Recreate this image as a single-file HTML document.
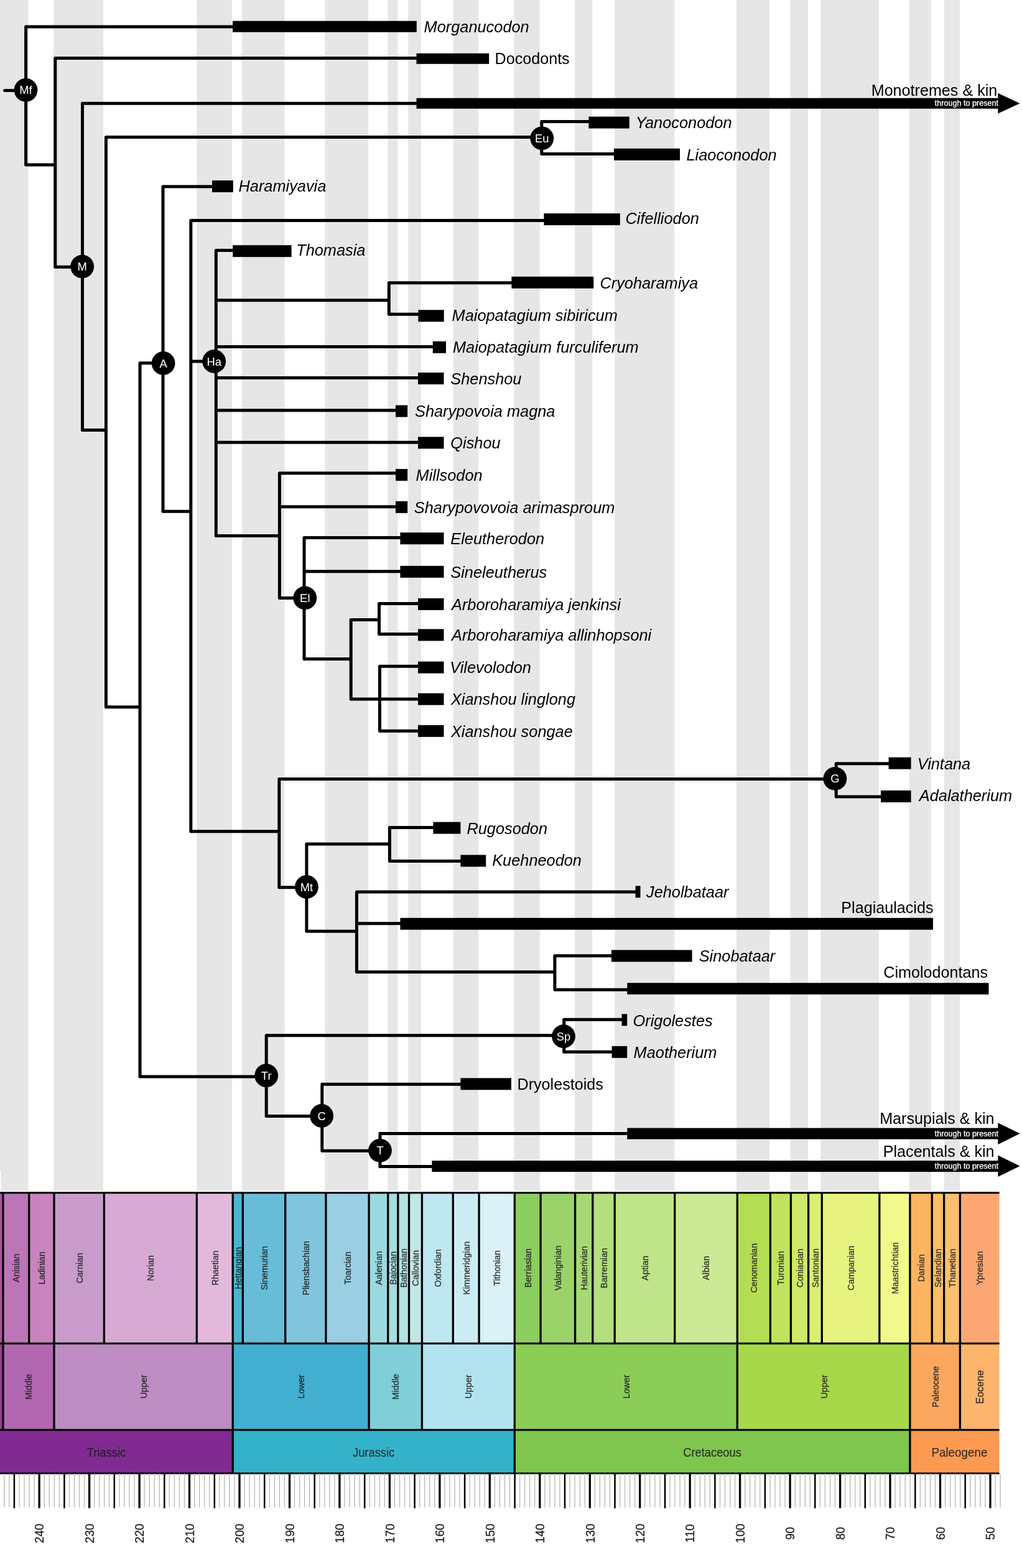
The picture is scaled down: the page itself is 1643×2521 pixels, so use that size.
<!DOCTYPE html>
<html lang="en"><head><meta charset="utf-8"><title>Mammaliaform phylogeny</title>
<style>html,body{margin:0;padding:0;background:#fff}svg{display:block}text{font-family:"Liberation Sans",Arial,Helvetica,sans-serif}.it{font-style:italic;font-size:25.35px;fill:#000}.ro{font-size:25.15px;fill:#000}.nd{font-size:18.4px;fill:#fff;text-anchor:middle}.tp{font-size:12.6px;fill:#fff;stroke:#fff;stroke-width:.3px;text-anchor:end}.st{font-size:15px;fill:#1a1a1a;stroke:#1a1a1a;stroke-width:.3px;text-anchor:middle;opacity:.88}.pe{font-size:19.3px;fill:#1a1a1a;stroke:#1a1a1a;stroke-width:.2px;text-anchor:middle;opacity:.85}.tk{font-size:20px;fill:#1d1d1b;stroke:#1d1d1b;stroke-width:.25px;text-anchor:middle}</style></head><body>
<svg width="1643" height="2521" viewBox="0 0 1643 2521">
<rect width="1643" height="2521" fill="#fff"/>
<g fill="#e6e6e6">
<rect x="0.0" y="0" width="45.4" height="1914.6"/>
<rect x="86.2" y="0" width="79.8" height="1914.6"/>
<rect x="316.3" y="0" width="56.6" height="1914.6"/>
<rect x="389.1" y="0" width="68.3" height="1914.6"/>
<rect x="522.4" y="0" width="69.9" height="1914.6"/>
<rect x="623.5" y="0" width="15.8" height="1914.6"/>
<rect x="656.2" y="0" width="20.8" height="1914.6"/>
<rect x="728.6" y="0" width="40.5" height="1914.6"/>
<rect x="826.3" y="0" width="41.6" height="1914.6"/>
<rect x="924.0" y="0" width="28.2" height="1914.6"/>
<rect x="988.2" y="0" width="96.1" height="1914.6"/>
<rect x="1184.0" y="0" width="53.2" height="1914.6"/>
<rect x="1270.6" y="0" width="28.5" height="1914.6"/>
<rect x="1319.3" y="0" width="93.5" height="1914.6"/>
<rect x="1461.8" y="0" width="35.0" height="1914.6"/>
<rect x="1517.8" y="0" width="25.4" height="1914.6"/>
</g>
<rect x="0" y="1882" width="1.6" height="34" fill="#fff"/>
<g stroke="#000" stroke-width="5.0" fill="none">
<path stroke-linecap="round" d="M41.6 43.1V265.0M88.8 93.4V429.3M132.5 166.2V691.5M170.4 220.6V1136.8M870.8 195.4V247.6M225.0 583.7V1731.0M262.0 300.0V822.3M306.8 354.5V1336.7M347.3 402.6V861.5M625.3 454.8V505.2M449.4 760.8V961.6M489.0 864.6V1059.5M564.2 996.5V1124.0M609.5 970.6V1019.6M610.5 1071.2V1175.3M448.8 1252.5V1426.8M1344.2 1227.7V1280.9M492.9 1356.9V1497.3M626.4 1330.6V1384.5M573.4 1434.1V1562.8M891.9 1536.7V1591.2M428.2 1664.8V1794.6M906.7 1639.3V1691.2M517.8 1743.2V1850.3M611.0 1822.2V1875.7"/>
<path d="M41.6 43.1H374.5M41.6 265.0H88.8M88.8 93.4H670.0M88.8 429.3H132.4M132.5 166.2H670.0M132.5 691.5H170.4M170.4 220.6H870.7M870.8 195.4H946.9M870.8 247.6H987.5M170.4 1136.8H225.0M225.0 583.7H262.0M262.0 300.0H341.5M262.0 822.3H306.8M306.8 354.5H874.9M306.8 581.1H344.5M347.3 402.6H374.7M347.3 482.7H625.3M625.3 454.8H822.9M625.3 505.2H672.9M347.3 557.6H696.3M347.3 607.6H672.5M347.3 659.8H636.5M347.3 711.3H672.5M347.3 861.5H449.4M449.4 760.8H636.5M449.4 814.8H636.5M449.4 961.6H490.0M489.0 864.6H643.9M489.0 918.7H643.9M489.0 1059.5H564.2M564.2 996.5H609.5M609.5 970.6H672.5M609.5 1019.6H672.5M564.2 1124.0H672.5M610.5 1071.2H672.5M610.5 1175.3H672.5M306.8 1336.7H448.8M448.8 1252.5H1343.0M1344.2 1227.7H1429.1M1344.2 1280.9H1416.5M448.8 1426.8H493.0M492.9 1356.9H626.4M626.4 1330.6H696.9M626.4 1384.5H740.9M492.9 1497.3H573.4M573.4 1434.1H1022.1M573.4 1484.7H643.9M573.4 1562.8H891.9M891.9 1536.7H983.4M891.9 1591.2H1008.8M225.0 1731.0H428.0M428.2 1664.8H906.0M906.7 1639.3H1000.1M906.7 1691.2H984.1M428.2 1794.6H518.0M517.8 1743.2H740.9M517.8 1850.3H611.0M611.0 1822.4H1008.8M611.0 1875.4H694.9"/>
<line x1="7.6" y1="145.5" x2="24" y2="145.5" stroke-linecap="round"/>
</g>
<g fill="#000">
<rect x="374.0" y="33.7" width="295.8" height="18.0"/>
<rect x="669.5" y="85.8" width="116.7" height="17.0"/>
<rect x="669.5" y="157.7" width="935.5" height="17.0"/>
<rect x="946.4" y="187.5" width="65.4" height="19.0"/>
<rect x="987.0" y="238.8" width="106.0" height="19.0"/>
<rect x="341.0" y="290.1" width="33.8" height="19.0"/>
<rect x="874.4" y="343.1" width="122.4" height="19.0"/>
<rect x="374.2" y="394.2" width="94.4" height="19.0"/>
<rect x="822.4" y="444.7" width="131.9" height="19.0"/>
<rect x="672.4" y="498.3" width="41.3" height="19.0"/>
<rect x="695.8" y="548.8" width="21.2" height="19.0"/>
<rect x="672.0" y="599.0" width="41.5" height="19.0"/>
<rect x="636.0" y="651.5" width="19.2" height="19.0"/>
<rect x="672.0" y="702.4" width="41.5" height="19.0"/>
<rect x="636.0" y="754.0" width="19.2" height="19.0"/>
<rect x="636.0" y="805.9" width="19.2" height="19.0"/>
<rect x="643.4" y="856.2" width="70.1" height="19.0"/>
<rect x="643.4" y="909.8" width="70.1" height="19.0"/>
<rect x="672.0" y="961.9" width="41.5" height="19.0"/>
<rect x="672.0" y="1011.4" width="41.5" height="19.0"/>
<rect x="672.0" y="1114.6" width="41.5" height="19.0"/>
<rect x="672.0" y="1063.6" width="41.5" height="19.0"/>
<rect x="672.0" y="1165.8" width="41.5" height="19.0"/>
<rect x="1428.6" y="1217.6" width="36.0" height="19.0"/>
<rect x="1416.0" y="1270.9" width="48.6" height="19.0"/>
<rect x="696.4" y="1321.6" width="44.0" height="19.0"/>
<rect x="740.4" y="1374.5" width="40.8" height="19.0"/>
<rect x="1021.6" y="1424.3" width="7.9" height="19.0"/>
<rect x="643.4" y="1475.8" width="856.6" height="19.0"/>
<rect x="982.9" y="1527.4" width="129.7" height="19.0"/>
<rect x="1008.3" y="1580.3" width="581.2" height="18.5"/>
<rect x="999.6" y="1630.3" width="8.6" height="19.0"/>
<rect x="983.6" y="1681.9" width="24.6" height="19.0"/>
<rect x="740.4" y="1733.3" width="81.6" height="19.0"/>
<rect x="1008.3" y="1813.6" width="596.7" height="18.0"/>
<rect x="694.4" y="1866.1" width="910.6" height="18.0"/>
<polygon points="1604.4,149.8 1639.6,166.2 1604.4,182.6"/>
<polygon points="1604.4,1805.3 1639.6,1822.6 1604.4,1839.9"/>
<polygon points="1604.4,1857.5 1639.6,1874.8 1604.4,1892.1"/>
<circle cx="41.5" cy="144.8" r="18.9"/>
<circle cx="132.2" cy="428.6" r="18.9"/>
<circle cx="871.3" cy="222.3" r="18.9"/>
<circle cx="262.6" cy="584.0" r="18.9"/>
<circle cx="344.2" cy="581.0" r="18.9"/>
<circle cx="490.3" cy="961.4" r="18.9"/>
<circle cx="1342.4" cy="1251.9" r="18.9"/>
<circle cx="492.9" cy="1426.0" r="18.9"/>
<circle cx="428.2" cy="1729.2" r="18.9"/>
<circle cx="906.0" cy="1666.2" r="18.9"/>
<circle cx="517.2" cy="1794.0" r="18.9"/>
<circle cx="611.0" cy="1849.8" r="18.9"/>
</g>
<text class="nd" x="41.5" y="151.3">Mf</text>
<text class="nd" x="132.2" y="435.1">M</text>
<text class="nd" x="871.3" y="228.8">Eu</text>
<text class="nd" x="262.6" y="590.5">A</text>
<text class="nd" x="344.2" y="587.5">Ha</text>
<text class="nd" x="490.3" y="967.9">El</text>
<text class="nd" x="1342.4" y="1258.4">G</text>
<text class="nd" x="492.9" y="1432.5">Mt</text>
<text class="nd" x="428.2" y="1735.7">Tr</text>
<text class="nd" x="906.0" y="1672.7">Sp</text>
<text class="nd" x="517.2" y="1800.5">C</text>
<text class="nd" x="611.0" y="1856.3">T</text>
<text class="it" x="681.6" y="52.0">Morganucodon</text>
<text class="ro" x="795.5" y="102.6">Docodonts</text>
<text class="ro" x="1603.3" y="153.7" text-anchor="end">Monotremes &amp; kin</text>
<text class="tp" x="1605.0" y="169.8" text-anchor="end">through to present</text>
<text class="it" x="1022.0" y="206.0">Yanoconodon</text>
<text class="it" x="1103.5" y="257.6">Liaoconodon</text>
<text class="it" x="383.5" y="308.4">Haramiyavia</text>
<text class="it" x="1005.5" y="360.2">Cifelliodon</text>
<text class="it" x="476.2" y="411.4">Thomasia</text>
<text class="it" x="964.4" y="463.5">Cryoharamiya</text>
<text class="it" x="726.6" y="515.6">Maiopatagium sibiricum</text>
<text class="it" x="728.0" y="566.6">Maiopatagium furculiferum</text>
<text class="it" x="724.3" y="617.8">Shenshou</text>
<text class="it" x="667.0" y="670.3">Sharypovoia magna</text>
<text class="it" x="724.3" y="721.2">Qishou</text>
<text class="it" x="668.6" y="772.8">Millsodon</text>
<text class="it" x="665.8" y="824.7">Sharypovovoia arimasproum</text>
<text class="it" x="724.3" y="875.0">Eleutherodon</text>
<text class="it" x="724.3" y="928.6">Sineleutherus</text>
<text class="it" x="726.0" y="980.7">Arboroharamiya jenkinsi</text>
<text class="it" x="726.0" y="1030.2">Arboroharamiya allinhopsoni</text>
<text class="it" x="724.9" y="1133.4">Xianshou linglong</text>
<text class="it" x="723.3" y="1082.4">Vilevolodon</text>
<text class="it" x="724.9" y="1184.6">Xianshou songae</text>
<text class="it" x="1474.7" y="1237.2">Vintana</text>
<text class="it" x="1477.8" y="1288.2">Adalatherium</text>
<text class="it" x="750.4" y="1340.7">Rugosodon</text>
<text class="it" x="791.2" y="1392.4">Kuehneodon</text>
<text class="it" x="1039.0" y="1443.1">Jeholbataar</text>
<text class="ro" x="1500.5" y="1467.9" text-anchor="end">Plagiaulacids</text>
<text class="it" x="1123.7" y="1546.2">Sinobataar</text>
<text class="ro" x="1588.0" y="1572.0" text-anchor="end">Cimolodontans</text>
<text class="it" x="1017.5" y="1649.6">Origolestes</text>
<text class="it" x="1018.6" y="1701.2">Maotherium</text>
<text class="ro" x="831.5" y="1751.6">Dryolestoids</text>
<text class="ro" x="1598.6" y="1807.2" text-anchor="end">Marsupials &amp; kin</text>
<text class="tp" x="1605.0" y="1826.6" text-anchor="end">through to present</text>
<text class="ro" x="1598.6" y="1860.2" text-anchor="end">Placentals &amp; kin</text>
<text class="tp" x="1605.0" y="1878.6" text-anchor="end">through to present</text>
<rect x="0.0" y="1917.7" width="4.9" height="242.3" fill="#b051a5"/>
<rect x="4.9" y="1917.7" width="41.8" height="242.3" fill="#bc75b7"/>
<rect x="46.7" y="1917.7" width="40.2" height="242.3" fill="#c983bf"/>
<rect x="87.0" y="1917.7" width="80.5" height="242.3" fill="#c99bcb"/>
<rect x="167.4" y="1917.7" width="148.9" height="242.3" fill="#d6aad3"/>
<rect x="316.3" y="1917.7" width="57.9" height="242.3" fill="#e3b9db"/>
<rect x="374.2" y="1917.7" width="16.1" height="242.3" fill="#4eb3d3"/>
<rect x="390.3" y="1917.7" width="68.4" height="242.3" fill="#67bcd8"/>
<rect x="458.7" y="1917.7" width="65.2" height="242.3" fill="#80c5dd"/>
<rect x="523.9" y="1917.7" width="69.2" height="242.3" fill="#99cee3"/>
<rect x="593.1" y="1917.7" width="30.6" height="242.3" fill="#9ad9dd"/>
<rect x="623.7" y="1917.7" width="16.1" height="242.3" fill="#a6dde0"/>
<rect x="639.8" y="1917.7" width="17.7" height="242.3" fill="#b3e2e3"/>
<rect x="657.5" y="1917.7" width="20.9" height="242.3" fill="#bfe7e5"/>
<rect x="678.4" y="1917.7" width="49.9" height="242.3" fill="#bfe7f1"/>
<rect x="728.3" y="1917.7" width="41.8" height="242.3" fill="#ccecf4"/>
<rect x="770.1" y="1917.7" width="57.1" height="242.3" fill="#d9f1f7"/>
<rect x="827.3" y="1917.7" width="41.8" height="242.3" fill="#8ccd60"/>
<rect x="869.1" y="1917.7" width="55.5" height="242.3" fill="#99d36a"/>
<rect x="924.6" y="1917.7" width="28.2" height="242.3" fill="#a6d975"/>
<rect x="952.8" y="1917.7" width="35.4" height="242.3" fill="#b3df7f"/>
<rect x="988.2" y="1917.7" width="96.6" height="242.3" fill="#bfe48a"/>
<rect x="1084.7" y="1917.7" width="100.6" height="242.3" fill="#cce995"/>
<rect x="1185.3" y="1917.7" width="53.1" height="242.3" fill="#b3de53"/>
<rect x="1238.4" y="1917.7" width="33.0" height="242.3" fill="#bfe35d"/>
<rect x="1271.4" y="1917.7" width="28.2" height="242.3" fill="#cce968"/>
<rect x="1299.6" y="1917.7" width="21.7" height="242.3" fill="#d9ef74"/>
<rect x="1321.3" y="1917.7" width="92.5" height="242.3" fill="#e6f47f"/>
<rect x="1413.8" y="1917.7" width="49.1" height="242.3" fill="#f2fa8c"/>
<rect x="1462.9" y="1917.7" width="35.4" height="242.3" fill="#fdb462"/>
<rect x="1498.3" y="1917.7" width="19.3" height="242.3" fill="#febf65"/>
<rect x="1517.6" y="1917.7" width="25.7" height="242.3" fill="#fdbf6f"/>
<rect x="1543.4" y="1917.7" width="63.2" height="242.3" fill="#fca773"/>
<rect x="0.0" y="2160.0" width="4.9" height="139.0" fill="#983999"/>
<rect x="4.9" y="2160.0" width="82.1" height="139.0" fill="#b168b1"/>
<rect x="87.0" y="2160.0" width="287.3" height="139.0" fill="#bd8cc3"/>
<rect x="374.2" y="2160.0" width="218.9" height="139.0" fill="#42aed0"/>
<rect x="593.1" y="2160.0" width="85.3" height="139.0" fill="#80cfd8"/>
<rect x="678.4" y="2160.0" width="148.9" height="139.0" fill="#b3e3ee"/>
<rect x="827.3" y="2160.0" width="358.1" height="139.0" fill="#8ccd57"/>
<rect x="1185.3" y="2160.0" width="277.6" height="139.0" fill="#a6d84a"/>
<rect x="1462.9" y="2160.0" width="80.5" height="139.0" fill="#fda75f"/>
<rect x="1543.4" y="2160.0" width="63.2" height="139.0" fill="#fdb46c"/>
<rect x="0.0" y="2299.0" width="374.2" height="69.9" fill="#812b92"/>
<rect x="374.2" y="2299.0" width="453.0" height="69.9" fill="#34b2c9"/>
<rect x="827.3" y="2299.0" width="635.7" height="69.9" fill="#7fc64e"/>
<rect x="1462.9" y="2299.0" width="143.6" height="69.9" fill="#fd9a52"/>
<g stroke="#000" stroke-width="3.3" fill="none">
<line x1="0" y1="1917.7" x2="1606.6" y2="1917.7" stroke-width="2.9"/>
<line x1="0" y1="2160.0" x2="1606.6" y2="2160.0" stroke-width="2.9"/>
<line x1="0" y1="2299.0" x2="1606.6" y2="2299.0" stroke-width="2.9"/>
<line x1="0" y1="2368.9" x2="1606.6" y2="2368.9" stroke-width="2.9"/>
<line x1="4.9" y1="1917.7" x2="4.9" y2="2160.0"/>
<line x1="46.7" y1="1917.7" x2="46.7" y2="2160.0"/>
<line x1="87.0" y1="1917.7" x2="87.0" y2="2160.0"/>
<line x1="167.4" y1="1917.7" x2="167.4" y2="2160.0"/>
<line x1="316.3" y1="1917.7" x2="316.3" y2="2160.0"/>
<line x1="374.2" y1="1917.7" x2="374.2" y2="2160.0"/>
<line x1="390.3" y1="1917.7" x2="390.3" y2="2160.0"/>
<line x1="458.7" y1="1917.7" x2="458.7" y2="2160.0"/>
<line x1="523.9" y1="1917.7" x2="523.9" y2="2160.0"/>
<line x1="593.1" y1="1917.7" x2="593.1" y2="2160.0"/>
<line x1="623.7" y1="1917.7" x2="623.7" y2="2160.0"/>
<line x1="639.8" y1="1917.7" x2="639.8" y2="2160.0"/>
<line x1="657.5" y1="1917.7" x2="657.5" y2="2160.0"/>
<line x1="678.4" y1="1917.7" x2="678.4" y2="2160.0"/>
<line x1="728.3" y1="1917.7" x2="728.3" y2="2160.0"/>
<line x1="770.1" y1="1917.7" x2="770.1" y2="2160.0"/>
<line x1="827.3" y1="1917.7" x2="827.3" y2="2160.0"/>
<line x1="869.1" y1="1917.7" x2="869.1" y2="2160.0"/>
<line x1="924.6" y1="1917.7" x2="924.6" y2="2160.0"/>
<line x1="952.8" y1="1917.7" x2="952.8" y2="2160.0"/>
<line x1="988.2" y1="1917.7" x2="988.2" y2="2160.0"/>
<line x1="1084.7" y1="1917.7" x2="1084.7" y2="2160.0"/>
<line x1="1185.3" y1="1917.7" x2="1185.3" y2="2160.0"/>
<line x1="1238.4" y1="1917.7" x2="1238.4" y2="2160.0"/>
<line x1="1271.4" y1="1917.7" x2="1271.4" y2="2160.0"/>
<line x1="1299.6" y1="1917.7" x2="1299.6" y2="2160.0"/>
<line x1="1321.3" y1="1917.7" x2="1321.3" y2="2160.0"/>
<line x1="1413.8" y1="1917.7" x2="1413.8" y2="2160.0"/>
<line x1="1462.9" y1="1917.7" x2="1462.9" y2="2160.0"/>
<line x1="1498.3" y1="1917.7" x2="1498.3" y2="2160.0"/>
<line x1="1517.6" y1="1917.7" x2="1517.6" y2="2160.0"/>
<line x1="1543.4" y1="1917.7" x2="1543.4" y2="2160.0"/>
<line x1="4.9" y1="2160.0" x2="4.9" y2="2299.0"/>
<line x1="87.0" y1="2160.0" x2="87.0" y2="2299.0"/>
<line x1="374.2" y1="2160.0" x2="374.2" y2="2299.0"/>
<line x1="593.1" y1="2160.0" x2="593.1" y2="2299.0"/>
<line x1="678.4" y1="2160.0" x2="678.4" y2="2299.0"/>
<line x1="827.3" y1="2160.0" x2="827.3" y2="2299.0"/>
<line x1="1185.3" y1="2160.0" x2="1185.3" y2="2299.0"/>
<line x1="1462.9" y1="2160.0" x2="1462.9" y2="2299.0"/>
<line x1="1543.4" y1="2160.0" x2="1543.4" y2="2299.0"/>
<line x1="374.2" y1="2299.0" x2="374.2" y2="2368.9"/>
<line x1="827.3" y1="2299.0" x2="827.3" y2="2368.9"/>
<line x1="1462.9" y1="2299.0" x2="1462.9" y2="2368.9"/>
</g>
<text class="st" transform="translate(31.2,2038.8) rotate(-90) scale(0.935,1)">Anisian</text>
<text class="st" transform="translate(72.3,2038.8) rotate(-90) scale(0.935,1)">Ladinian</text>
<text class="st" transform="translate(132.6,2038.8) rotate(-90) scale(0.935,1)">Carnian</text>
<text class="st" transform="translate(247.3,2038.8) rotate(-90) scale(0.935,1)">Norian</text>
<text class="st" transform="translate(350.7,2038.8) rotate(-90) scale(0.935,1)">Rhaetian</text>
<text class="st" transform="translate(387.7,2038.8) rotate(-90) scale(0.935,1)">Hettangian</text>
<text class="st" transform="translate(429.9,2038.8) rotate(-90) scale(0.935,1)">Sinemurian</text>
<text class="st" transform="translate(496.7,2038.8) rotate(-90) scale(0.935,1)">Pliensbachian</text>
<text class="st" transform="translate(563.9,2038.8) rotate(-90) scale(0.935,1)">Toarcian</text>
<text class="st" transform="translate(613.8,2038.8) rotate(-90) scale(0.935,1)">Aalenian</text>
<text class="st" transform="translate(637.1,2038.8) rotate(-90) scale(0.935,1)">Bajocian</text>
<text class="st" transform="translate(654.0,2038.8) rotate(-90) scale(0.935,1)">Bathonian</text>
<text class="st" transform="translate(673.3,2038.8) rotate(-90) scale(0.935,1)">Callovian</text>
<text class="st" transform="translate(708.7,2038.8) rotate(-90) scale(0.935,1)">Oxfordian</text>
<text class="st" transform="translate(754.6,2038.8) rotate(-90) scale(0.935,1)">Kimmeridgian</text>
<text class="st" transform="translate(804.1,2038.8) rotate(-90) scale(0.935,1)">Tithonian</text>
<text class="st" transform="translate(853.6,2038.8) rotate(-90) scale(0.935,1)">Berriasian</text>
<text class="st" transform="translate(902.3,2038.8) rotate(-90) scale(0.935,1)">Valanginian</text>
<text class="st" transform="translate(944.1,2038.8) rotate(-90) scale(0.935,1)">Hauterivian</text>
<text class="st" transform="translate(975.9,2038.8) rotate(-90) scale(0.935,1)">Barremian</text>
<text class="st" transform="translate(1041.9,2038.8) rotate(-90) scale(0.935,1)">Aptian</text>
<text class="st" transform="translate(1140.4,2038.8) rotate(-90) scale(0.935,1)">Albian</text>
<text class="st" transform="translate(1217.3,2038.8) rotate(-90) scale(0.935,1)">Cenomanian</text>
<text class="st" transform="translate(1260.3,2038.8) rotate(-90) scale(0.935,1)">Turonian</text>
<text class="st" transform="translate(1290.9,2038.8) rotate(-90) scale(0.935,1)">Coniacian</text>
<text class="st" transform="translate(1315.8,2038.8) rotate(-90) scale(0.935,1)">Santonian</text>
<text class="st" transform="translate(1373.0,2038.8) rotate(-90) scale(0.935,1)">Campanian</text>
<text class="st" transform="translate(1443.8,2038.8) rotate(-90) scale(0.935,1)">Maastrichtian</text>
<text class="st" transform="translate(1486.0,2038.8) rotate(-90) scale(0.935,1)">Danian</text>
<text class="st" transform="translate(1513.4,2038.8) rotate(-90) scale(0.935,1)">Selandian</text>
<text class="st" transform="translate(1535.9,2038.8) rotate(-90) scale(0.935,1)">Thanetian</text>
<text class="st" transform="translate(1580.4,2038.8) rotate(-90) scale(0.935,1)">Ypresian</text>
<text class="st" transform="translate(51.3,2229.5) rotate(-90) scale(0.935,1)">Middle</text>
<text class="st" transform="translate(236.0,2229.5) rotate(-90) scale(0.935,1)">Upper</text>
<text class="st" transform="translate(489.1,2229.5) rotate(-90) scale(0.935,1)">Lower</text>
<text class="st" transform="translate(641.2,2229.5) rotate(-90) scale(0.935,1)">Middle</text>
<text class="st" transform="translate(758.2,2229.5) rotate(-90) scale(0.935,1)">Upper</text>
<text class="st" transform="translate(1011.7,2229.5) rotate(-90) scale(0.935,1)">Lower</text>
<text class="st" transform="translate(1329.5,2229.5) rotate(-90) scale(0.935,1)">Upper</text>
<text class="st" transform="translate(1508.6,2229.5) rotate(-90) scale(0.935,1)">Paleocene</text>
<text class="st" style="font-size:16.4px" transform="translate(1581.2,2230.1) rotate(-90) scale(0.98,1)">Eocene</text>
<text class="pe" transform="translate(170.9,2341.5) scale(0.95,1)">Triassic</text>
<text class="pe" transform="translate(600.6,2341.5) scale(0.95,1)">Jurassic</text>
<text class="pe" transform="translate(1145.0,2341.5) scale(0.95,1)">Cretaceous</text>
<text class="pe" transform="translate(1542.4,2341.5) scale(0.975,1)">Paleogene</text>
<g stroke="#b6b6b6" stroke-width="1.3">
<line x1="1608.1" y1="2368.9" x2="1608.1" y2="2423.6"/>
<line x1="1600.0" y1="2368.9" x2="1600.0" y2="2423.6"/>
<line x1="1583.9" y1="2368.9" x2="1583.9" y2="2423.6"/>
<line x1="1575.9" y1="2368.9" x2="1575.9" y2="2423.6"/>
<line x1="1567.8" y1="2368.9" x2="1567.8" y2="2423.6"/>
<line x1="1559.8" y1="2368.9" x2="1559.8" y2="2423.6"/>
<line x1="1543.7" y1="2368.9" x2="1543.7" y2="2423.6"/>
<line x1="1535.6" y1="2368.9" x2="1535.6" y2="2423.6"/>
<line x1="1527.6" y1="2368.9" x2="1527.6" y2="2423.6"/>
<line x1="1519.6" y1="2368.9" x2="1519.6" y2="2423.6"/>
<line x1="1503.5" y1="2368.9" x2="1503.5" y2="2423.6"/>
<line x1="1495.4" y1="2368.9" x2="1495.4" y2="2423.6"/>
<line x1="1487.4" y1="2368.9" x2="1487.4" y2="2423.6"/>
<line x1="1479.3" y1="2368.9" x2="1479.3" y2="2423.6"/>
<line x1="1463.2" y1="2368.9" x2="1463.2" y2="2423.6"/>
<line x1="1455.2" y1="2368.9" x2="1455.2" y2="2423.6"/>
<line x1="1447.1" y1="2368.9" x2="1447.1" y2="2423.6"/>
<line x1="1439.1" y1="2368.9" x2="1439.1" y2="2423.6"/>
<line x1="1423.0" y1="2368.9" x2="1423.0" y2="2423.6"/>
<line x1="1415.0" y1="2368.9" x2="1415.0" y2="2423.6"/>
<line x1="1406.9" y1="2368.9" x2="1406.9" y2="2423.6"/>
<line x1="1398.9" y1="2368.9" x2="1398.9" y2="2423.6"/>
<line x1="1382.8" y1="2368.9" x2="1382.8" y2="2423.6"/>
<line x1="1374.7" y1="2368.9" x2="1374.7" y2="2423.6"/>
<line x1="1366.7" y1="2368.9" x2="1366.7" y2="2423.6"/>
<line x1="1358.6" y1="2368.9" x2="1358.6" y2="2423.6"/>
<line x1="1342.5" y1="2368.9" x2="1342.5" y2="2423.6"/>
<line x1="1334.5" y1="2368.9" x2="1334.5" y2="2423.6"/>
<line x1="1326.4" y1="2368.9" x2="1326.4" y2="2423.6"/>
<line x1="1318.4" y1="2368.9" x2="1318.4" y2="2423.6"/>
<line x1="1302.3" y1="2368.9" x2="1302.3" y2="2423.6"/>
<line x1="1294.3" y1="2368.9" x2="1294.3" y2="2423.6"/>
<line x1="1286.2" y1="2368.9" x2="1286.2" y2="2423.6"/>
<line x1="1278.2" y1="2368.9" x2="1278.2" y2="2423.6"/>
<line x1="1262.1" y1="2368.9" x2="1262.1" y2="2423.6"/>
<line x1="1254.0" y1="2368.9" x2="1254.0" y2="2423.6"/>
<line x1="1246.0" y1="2368.9" x2="1246.0" y2="2423.6"/>
<line x1="1237.9" y1="2368.9" x2="1237.9" y2="2423.6"/>
<line x1="1221.8" y1="2368.9" x2="1221.8" y2="2423.6"/>
<line x1="1213.8" y1="2368.9" x2="1213.8" y2="2423.6"/>
<line x1="1205.7" y1="2368.9" x2="1205.7" y2="2423.6"/>
<line x1="1197.7" y1="2368.9" x2="1197.7" y2="2423.6"/>
<line x1="1181.6" y1="2368.9" x2="1181.6" y2="2423.6"/>
<line x1="1173.6" y1="2368.9" x2="1173.6" y2="2423.6"/>
<line x1="1165.5" y1="2368.9" x2="1165.5" y2="2423.6"/>
<line x1="1157.5" y1="2368.9" x2="1157.5" y2="2423.6"/>
<line x1="1141.4" y1="2368.9" x2="1141.4" y2="2423.6"/>
<line x1="1133.3" y1="2368.9" x2="1133.3" y2="2423.6"/>
<line x1="1125.3" y1="2368.9" x2="1125.3" y2="2423.6"/>
<line x1="1117.2" y1="2368.9" x2="1117.2" y2="2423.6"/>
<line x1="1101.1" y1="2368.9" x2="1101.1" y2="2423.6"/>
<line x1="1093.1" y1="2368.9" x2="1093.1" y2="2423.6"/>
<line x1="1085.0" y1="2368.9" x2="1085.0" y2="2423.6"/>
<line x1="1077.0" y1="2368.9" x2="1077.0" y2="2423.6"/>
<line x1="1060.9" y1="2368.9" x2="1060.9" y2="2423.6"/>
<line x1="1052.9" y1="2368.9" x2="1052.9" y2="2423.6"/>
<line x1="1044.8" y1="2368.9" x2="1044.8" y2="2423.6"/>
<line x1="1036.8" y1="2368.9" x2="1036.8" y2="2423.6"/>
<line x1="1020.7" y1="2368.9" x2="1020.7" y2="2423.6"/>
<line x1="1012.6" y1="2368.9" x2="1012.6" y2="2423.6"/>
<line x1="1004.6" y1="2368.9" x2="1004.6" y2="2423.6"/>
<line x1="996.5" y1="2368.9" x2="996.5" y2="2423.6"/>
<line x1="980.4" y1="2368.9" x2="980.4" y2="2423.6"/>
<line x1="972.4" y1="2368.9" x2="972.4" y2="2423.6"/>
<line x1="964.3" y1="2368.9" x2="964.3" y2="2423.6"/>
<line x1="956.3" y1="2368.9" x2="956.3" y2="2423.6"/>
<line x1="940.2" y1="2368.9" x2="940.2" y2="2423.6"/>
<line x1="932.2" y1="2368.9" x2="932.2" y2="2423.6"/>
<line x1="924.1" y1="2368.9" x2="924.1" y2="2423.6"/>
<line x1="916.1" y1="2368.9" x2="916.1" y2="2423.6"/>
<line x1="900.0" y1="2368.9" x2="900.0" y2="2423.6"/>
<line x1="891.9" y1="2368.9" x2="891.9" y2="2423.6"/>
<line x1="883.9" y1="2368.9" x2="883.9" y2="2423.6"/>
<line x1="875.8" y1="2368.9" x2="875.8" y2="2423.6"/>
<line x1="859.7" y1="2368.9" x2="859.7" y2="2423.6"/>
<line x1="851.7" y1="2368.9" x2="851.7" y2="2423.6"/>
<line x1="843.7" y1="2368.9" x2="843.7" y2="2423.6"/>
<line x1="835.6" y1="2368.9" x2="835.6" y2="2423.6"/>
<line x1="819.5" y1="2368.9" x2="819.5" y2="2423.6"/>
<line x1="811.5" y1="2368.9" x2="811.5" y2="2423.6"/>
<line x1="803.4" y1="2368.9" x2="803.4" y2="2423.6"/>
<line x1="795.4" y1="2368.9" x2="795.4" y2="2423.6"/>
<line x1="779.3" y1="2368.9" x2="779.3" y2="2423.6"/>
<line x1="771.2" y1="2368.9" x2="771.2" y2="2423.6"/>
<line x1="763.2" y1="2368.9" x2="763.2" y2="2423.6"/>
<line x1="755.1" y1="2368.9" x2="755.1" y2="2423.6"/>
<line x1="739.0" y1="2368.9" x2="739.0" y2="2423.6"/>
<line x1="731.0" y1="2368.9" x2="731.0" y2="2423.6"/>
<line x1="723.0" y1="2368.9" x2="723.0" y2="2423.6"/>
<line x1="714.9" y1="2368.9" x2="714.9" y2="2423.6"/>
<line x1="698.8" y1="2368.9" x2="698.8" y2="2423.6"/>
<line x1="690.8" y1="2368.9" x2="690.8" y2="2423.6"/>
<line x1="682.7" y1="2368.9" x2="682.7" y2="2423.6"/>
<line x1="674.7" y1="2368.9" x2="674.7" y2="2423.6"/>
<line x1="658.6" y1="2368.9" x2="658.6" y2="2423.6"/>
<line x1="650.5" y1="2368.9" x2="650.5" y2="2423.6"/>
<line x1="642.5" y1="2368.9" x2="642.5" y2="2423.6"/>
<line x1="634.4" y1="2368.9" x2="634.4" y2="2423.6"/>
<line x1="618.3" y1="2368.9" x2="618.3" y2="2423.6"/>
<line x1="610.3" y1="2368.9" x2="610.3" y2="2423.6"/>
<line x1="602.3" y1="2368.9" x2="602.3" y2="2423.6"/>
<line x1="594.2" y1="2368.9" x2="594.2" y2="2423.6"/>
<line x1="578.1" y1="2368.9" x2="578.1" y2="2423.6"/>
<line x1="570.1" y1="2368.9" x2="570.1" y2="2423.6"/>
<line x1="562.0" y1="2368.9" x2="562.0" y2="2423.6"/>
<line x1="554.0" y1="2368.9" x2="554.0" y2="2423.6"/>
<line x1="537.9" y1="2368.9" x2="537.9" y2="2423.6"/>
<line x1="529.8" y1="2368.9" x2="529.8" y2="2423.6"/>
<line x1="521.8" y1="2368.9" x2="521.8" y2="2423.6"/>
<line x1="513.7" y1="2368.9" x2="513.7" y2="2423.6"/>
<line x1="497.7" y1="2368.9" x2="497.7" y2="2423.6"/>
<line x1="489.6" y1="2368.9" x2="489.6" y2="2423.6"/>
<line x1="481.6" y1="2368.9" x2="481.6" y2="2423.6"/>
<line x1="473.5" y1="2368.9" x2="473.5" y2="2423.6"/>
<line x1="457.4" y1="2368.9" x2="457.4" y2="2423.6"/>
<line x1="449.4" y1="2368.9" x2="449.4" y2="2423.6"/>
<line x1="441.3" y1="2368.9" x2="441.3" y2="2423.6"/>
<line x1="433.3" y1="2368.9" x2="433.3" y2="2423.6"/>
<line x1="417.2" y1="2368.9" x2="417.2" y2="2423.6"/>
<line x1="409.1" y1="2368.9" x2="409.1" y2="2423.6"/>
<line x1="401.1" y1="2368.9" x2="401.1" y2="2423.6"/>
<line x1="393.0" y1="2368.9" x2="393.0" y2="2423.6"/>
<line x1="377.0" y1="2368.9" x2="377.0" y2="2423.6"/>
<line x1="368.9" y1="2368.9" x2="368.9" y2="2423.6"/>
<line x1="360.9" y1="2368.9" x2="360.9" y2="2423.6"/>
<line x1="352.8" y1="2368.9" x2="352.8" y2="2423.6"/>
<line x1="336.7" y1="2368.9" x2="336.7" y2="2423.6"/>
<line x1="328.7" y1="2368.9" x2="328.7" y2="2423.6"/>
<line x1="320.6" y1="2368.9" x2="320.6" y2="2423.6"/>
<line x1="312.6" y1="2368.9" x2="312.6" y2="2423.6"/>
<line x1="296.5" y1="2368.9" x2="296.5" y2="2423.6"/>
<line x1="288.4" y1="2368.9" x2="288.4" y2="2423.6"/>
<line x1="280.4" y1="2368.9" x2="280.4" y2="2423.6"/>
<line x1="272.3" y1="2368.9" x2="272.3" y2="2423.6"/>
<line x1="256.3" y1="2368.9" x2="256.3" y2="2423.6"/>
<line x1="248.2" y1="2368.9" x2="248.2" y2="2423.6"/>
<line x1="240.2" y1="2368.9" x2="240.2" y2="2423.6"/>
<line x1="232.1" y1="2368.9" x2="232.1" y2="2423.6"/>
<line x1="216.0" y1="2368.9" x2="216.0" y2="2423.6"/>
<line x1="208.0" y1="2368.9" x2="208.0" y2="2423.6"/>
<line x1="199.9" y1="2368.9" x2="199.9" y2="2423.6"/>
<line x1="191.9" y1="2368.9" x2="191.9" y2="2423.6"/>
<line x1="175.8" y1="2368.9" x2="175.8" y2="2423.6"/>
<line x1="167.7" y1="2368.9" x2="167.7" y2="2423.6"/>
<line x1="159.7" y1="2368.9" x2="159.7" y2="2423.6"/>
<line x1="151.7" y1="2368.9" x2="151.7" y2="2423.6"/>
<line x1="135.6" y1="2368.9" x2="135.6" y2="2423.6"/>
<line x1="127.5" y1="2368.9" x2="127.5" y2="2423.6"/>
<line x1="119.5" y1="2368.9" x2="119.5" y2="2423.6"/>
<line x1="111.4" y1="2368.9" x2="111.4" y2="2423.6"/>
<line x1="95.3" y1="2368.9" x2="95.3" y2="2423.6"/>
<line x1="87.3" y1="2368.9" x2="87.3" y2="2423.6"/>
<line x1="79.2" y1="2368.9" x2="79.2" y2="2423.6"/>
<line x1="71.2" y1="2368.9" x2="71.2" y2="2423.6"/>
<line x1="55.1" y1="2368.9" x2="55.1" y2="2423.6"/>
<line x1="47.0" y1="2368.9" x2="47.0" y2="2423.6"/>
<line x1="39.0" y1="2368.9" x2="39.0" y2="2423.6"/>
<line x1="31.0" y1="2368.9" x2="31.0" y2="2423.6"/>
<line x1="14.9" y1="2368.9" x2="14.9" y2="2423.6"/>
<line x1="6.8" y1="2368.9" x2="6.8" y2="2423.6"/>
</g>
<g stroke="#000" stroke-linecap="round">
<line x1="1592.0" y1="2368.9" x2="1592.0" y2="2423.5" stroke-width="3.3"/>
<line x1="1551.7" y1="2368.9" x2="1551.7" y2="2423.9" stroke-width="2.5"/>
<line x1="1511.5" y1="2368.9" x2="1511.5" y2="2423.5" stroke-width="3.3"/>
<line x1="1471.3" y1="2368.9" x2="1471.3" y2="2423.9" stroke-width="2.5"/>
<line x1="1431.0" y1="2368.9" x2="1431.0" y2="2423.5" stroke-width="3.3"/>
<line x1="1390.8" y1="2368.9" x2="1390.8" y2="2423.9" stroke-width="2.5"/>
<line x1="1350.6" y1="2368.9" x2="1350.6" y2="2423.5" stroke-width="3.3"/>
<line x1="1310.3" y1="2368.9" x2="1310.3" y2="2423.9" stroke-width="2.5"/>
<line x1="1270.1" y1="2368.9" x2="1270.1" y2="2423.5" stroke-width="3.3"/>
<line x1="1229.9" y1="2368.9" x2="1229.9" y2="2423.9" stroke-width="2.5"/>
<line x1="1189.6" y1="2368.9" x2="1189.6" y2="2423.5" stroke-width="3.3"/>
<line x1="1149.4" y1="2368.9" x2="1149.4" y2="2423.9" stroke-width="2.5"/>
<line x1="1109.2" y1="2368.9" x2="1109.2" y2="2423.5" stroke-width="3.3"/>
<line x1="1069.0" y1="2368.9" x2="1069.0" y2="2423.9" stroke-width="2.5"/>
<line x1="1028.7" y1="2368.9" x2="1028.7" y2="2423.5" stroke-width="3.3"/>
<line x1="988.5" y1="2368.9" x2="988.5" y2="2423.9" stroke-width="2.5"/>
<line x1="948.3" y1="2368.9" x2="948.3" y2="2423.5" stroke-width="3.3"/>
<line x1="908.0" y1="2368.9" x2="908.0" y2="2423.9" stroke-width="2.5"/>
<line x1="867.8" y1="2368.9" x2="867.8" y2="2423.5" stroke-width="3.3"/>
<line x1="827.6" y1="2368.9" x2="827.6" y2="2423.9" stroke-width="2.5"/>
<line x1="787.3" y1="2368.9" x2="787.3" y2="2423.5" stroke-width="3.3"/>
<line x1="747.1" y1="2368.9" x2="747.1" y2="2423.9" stroke-width="2.5"/>
<line x1="706.9" y1="2368.9" x2="706.9" y2="2423.5" stroke-width="3.3"/>
<line x1="666.6" y1="2368.9" x2="666.6" y2="2423.9" stroke-width="2.5"/>
<line x1="626.4" y1="2368.9" x2="626.4" y2="2423.5" stroke-width="3.3"/>
<line x1="586.2" y1="2368.9" x2="586.2" y2="2423.9" stroke-width="2.5"/>
<line x1="545.9" y1="2368.9" x2="545.9" y2="2423.5" stroke-width="3.3"/>
<line x1="505.7" y1="2368.9" x2="505.7" y2="2423.9" stroke-width="2.5"/>
<line x1="465.5" y1="2368.9" x2="465.5" y2="2423.5" stroke-width="3.3"/>
<line x1="425.2" y1="2368.9" x2="425.2" y2="2423.9" stroke-width="2.5"/>
<line x1="385.0" y1="2368.9" x2="385.0" y2="2423.5" stroke-width="3.3"/>
<line x1="344.8" y1="2368.9" x2="344.8" y2="2423.9" stroke-width="2.5"/>
<line x1="304.5" y1="2368.9" x2="304.5" y2="2423.5" stroke-width="3.3"/>
<line x1="264.3" y1="2368.9" x2="264.3" y2="2423.9" stroke-width="2.5"/>
<line x1="224.1" y1="2368.9" x2="224.1" y2="2423.5" stroke-width="3.3"/>
<line x1="183.8" y1="2368.9" x2="183.8" y2="2423.9" stroke-width="2.5"/>
<line x1="143.6" y1="2368.9" x2="143.6" y2="2423.5" stroke-width="3.3"/>
<line x1="103.4" y1="2368.9" x2="103.4" y2="2423.9" stroke-width="2.5"/>
<line x1="63.1" y1="2368.9" x2="63.1" y2="2423.5" stroke-width="3.3"/>
<line x1="22.9" y1="2368.9" x2="22.9" y2="2423.9" stroke-width="2.5"/>
</g>
<text class="tk" transform="translate(1599.2,2465.4) rotate(-90) scale(0.935,1)">50</text>
<text class="tk" transform="translate(1518.7,2465.4) rotate(-90) scale(0.935,1)">60</text>
<text class="tk" transform="translate(1438.2,2465.4) rotate(-90) scale(0.935,1)">70</text>
<text class="tk" transform="translate(1357.8,2465.4) rotate(-90) scale(0.935,1)">80</text>
<text class="tk" transform="translate(1277.3,2465.4) rotate(-90) scale(0.935,1)">90</text>
<text class="tk" transform="translate(1196.8,2465.4) rotate(-90) scale(0.935,1)">100</text>
<text class="tk" transform="translate(1116.4,2465.4) rotate(-90) scale(0.935,1)">110</text>
<text class="tk" transform="translate(1035.9,2465.4) rotate(-90) scale(0.935,1)">120</text>
<text class="tk" transform="translate(955.5,2465.4) rotate(-90) scale(0.935,1)">130</text>
<text class="tk" transform="translate(875.0,2465.4) rotate(-90) scale(0.935,1)">140</text>
<text class="tk" transform="translate(794.5,2465.4) rotate(-90) scale(0.935,1)">150</text>
<text class="tk" transform="translate(714.1,2465.4) rotate(-90) scale(0.935,1)">160</text>
<text class="tk" transform="translate(633.6,2465.4) rotate(-90) scale(0.935,1)">170</text>
<text class="tk" transform="translate(553.1,2465.4) rotate(-90) scale(0.935,1)">180</text>
<text class="tk" transform="translate(472.7,2465.4) rotate(-90) scale(0.935,1)">190</text>
<text class="tk" transform="translate(392.2,2465.4) rotate(-90) scale(0.935,1)">200</text>
<text class="tk" transform="translate(311.7,2465.4) rotate(-90) scale(0.935,1)">210</text>
<text class="tk" transform="translate(231.3,2465.4) rotate(-90) scale(0.935,1)">220</text>
<text class="tk" transform="translate(150.8,2465.4) rotate(-90) scale(0.935,1)">230</text>
<text class="tk" transform="translate(70.3,2465.4) rotate(-90) scale(0.935,1)">240</text>
</svg>
</body></html>
